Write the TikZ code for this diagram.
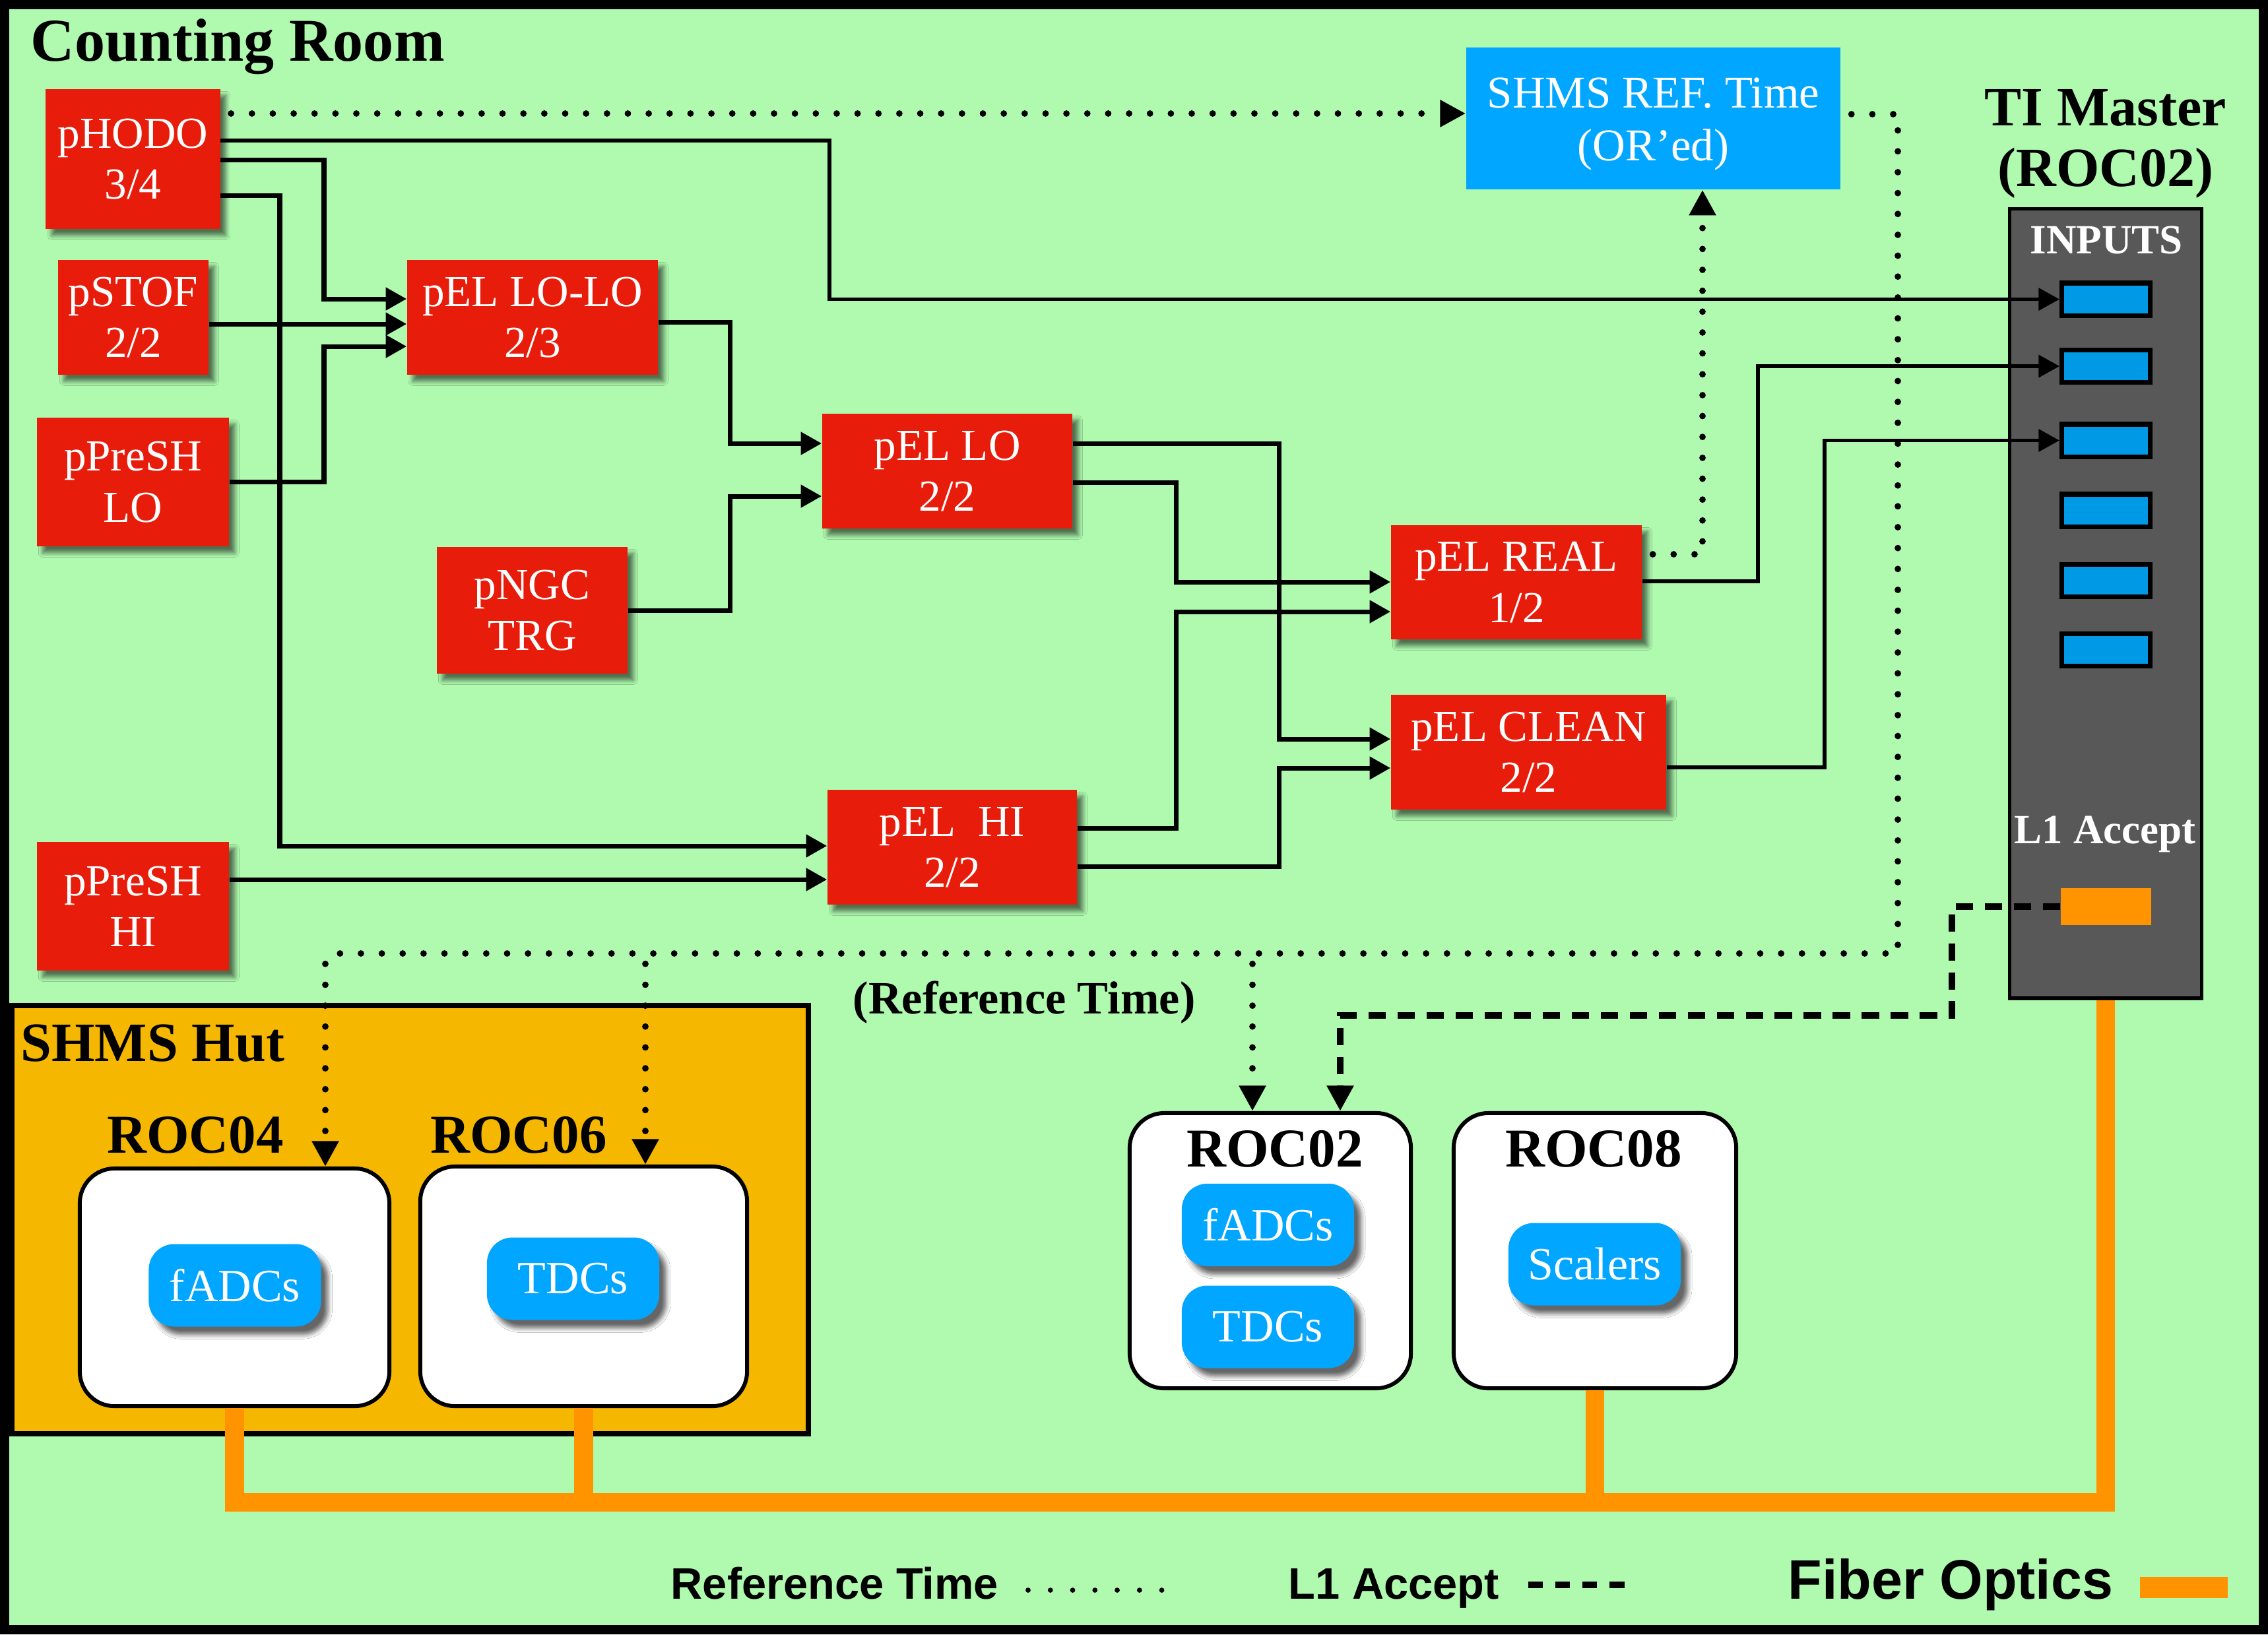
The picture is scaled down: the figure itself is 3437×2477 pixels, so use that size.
\documentclass[tikz,border=0pt]{standalone}
\usepackage{fontspec}
\setmainfont{Liberation Serif}
\newfontfamily\legendfont{Liberation Sans}
\usetikzlibrary{arrows.meta,shadows.blur}

\definecolor{bggreen}{RGB}{176,250,176}
\definecolor{trigred}{RGB}{232,28,10}
\definecolor{refblue}{RGB}{0,166,255}
\definecolor{slotblue}{RGB}{0,153,230}
\definecolor{tigray}{RGB}{88,88,88}
\definecolor{fiber}{RGB}{255,147,0}
\definecolor{hutorange}{RGB}{246,183,0}

\begin{document}
\begin{tikzpicture}[x=0.01cm,y=-0.01cm,
  trig/.style={fill=trigred, text=white, inner sep=0pt, align=center,
    font=\fontsize{19.1pt}{22pt}\selectfont,
    blur shadow={shadow xshift=2.5pt, shadow yshift=-2.8pt, shadow blur steps=6, shadow opacity=55}},
  rocbox/.style={draw=black, line width=1.7pt, fill=white, rounded corners=15pt, inner sep=0pt},
  pill/.style={fill=refblue, text=white, rounded corners=11pt, inner sep=0pt,
    minimum width=2.61cm, minimum height=1.25cm,
    font=\fontsize{19.9pt}{23pt}\selectfont,
    blur shadow={shadow xshift=3pt, shadow yshift=-3.5pt, shadow blur steps=6, shadow opacity=60}},
  slot/.style={fill=slotblue, draw=black, line width=2pt, inner sep=0pt,
    minimum width=1.34cm, minimum height=0.49cm},
  conn/.style={line width=2pt, -{Triangle[length=9pt,width=9.5pt]}},
  tiin/.style={line width=1.6pt, -{Triangle[length=9pt,width=9.5pt]}},
  refdot/.style={line width=2.8pt, dash pattern=on 0pt off 9pt, dash phase=4.5pt, line cap=round},
  bigtip/.style={-{Triangle[length=11pt,width=11pt]}},
  l1dash/.style={line width=2.8pt, dash pattern=on 7.5pt off 5pt},
  fiberline/.style={draw=fiber, line width=8pt},
  roclabel/.style={font=\fontsize{23.6pt}{27pt}\selectfont\bfseries, anchor=base, inner sep=0pt},
  tilabel/.style={font=\fontsize{17.9pt}{21pt}\selectfont\bfseries, text=white, anchor=base, inner sep=0pt},
  legend/.style={font=\legendfont\bfseries\fontsize{19pt}{22pt}\selectfont, anchor=base west, inner sep=0pt}
]
\useasboundingbox (0,0) rectangle (3437,2477);
% background and frame
\fill[bggreen] (0,0) rectangle (3437,2477);
\draw[line width=4pt] (7,7) rectangle (3430,2470);

\node[font=\fontsize{26.2pt}{30pt}\selectfont\bfseries, anchor=base west, inner sep=0pt] (countroom) at (46,92) {Counting Room};

% SHMS hut
\draw[fill=hutorange, line width=2.5pt] (18,1524) rectangle (1225,2173);
\node[font=\fontsize{23.9pt}{27pt}\selectfont\bfseries, anchor=base west, inner sep=0pt] (hutlabel) at (31,1608) {SHMS Hut};

% readout crates
\node[rocbox, minimum width=4.69cm, minimum height=3.60cm] (roc04) at (355.5,1951) {};
\node[rocbox, minimum width=4.95cm, minimum height=3.63cm] (roc06) at (884.5,1949.5) {};
\node[rocbox, minimum width=4.26cm, minimum height=4.17cm] (roc02) at (1925,1895.5) {};
\node[rocbox, minimum width=4.28cm, minimum height=4.17cm] (roc08) at (2417,1895.5) {};
\node[roclabel] (roc04lbl) at (296,1747) {ROC04};
\node[roclabel] (roc06lbl) at (786,1747) {ROC06};
\node[roclabel] (roc02lbl) at (1932,1768) {ROC02};
\node[roclabel] (roc08lbl) at (2415,1768) {ROC08};

\node[pill] (adc04) at (356,1948) {fADCs};
\node[pill] (tdc06) at (868.5,1938) {TDCs};
\node[pill] (adc02) at (1921.5,1856.5) {fADCs};
\node[pill] (tdc02) at (1921.5,2011) {TDCs};
\node[pill] (scal08) at (2416.5,1916) {Scalers};

% fiber optics
\draw[fiberline] (roc04.south) -- (roc04.south |- 0,2277) -| (3191,1515);
\draw[fiberline] (roc06.south) -- (roc06.south |- 0,2277);
\draw[fiberline] (roc08.south) -- (roc08.south |- 0,2277);

% trigger logic
\node[trig, minimum width=2.64cm, minimum height=2.12cm] (hodo) at (201.5,241) {pHODO\\3/4};
\node[trig, minimum width=2.28cm, minimum height=1.74cm] (stof) at (202,481) {pSTOF\\2/2};
\node[trig, minimum width=2.91cm, minimum height=1.95cm] (preshlo) at (201.5,730.5) {pPreSH\\LO};
\node[trig, minimum width=3.80cm, minimum height=1.74cm] (lolo) at (807,481) {pEL LO-LO\\2/3};
\node[trig, minimum width=2.89cm, minimum height=1.92cm] (ngc) at (806.5,925) {pNGC\\TRG};
\node[trig, minimum width=3.79cm, minimum height=1.74cm] (lo) at (1435.5,714) {pEL LO\\2/2};
\node[trig, minimum width=3.80cm, minimum height=1.73cm] (real) at (2298,882.5) {pEL REAL\\1/2};
\node[trig, minimum width=4.17cm, minimum height=1.74cm] (clean) at (2316.5,1140) {pEL CLEAN\\2/2};
\node[trig, minimum width=3.78cm, minimum height=1.74cm] (hi) at (1443,1284) {pEL\ \ HI\\2/2};
\node[trig, minimum width=2.91cm, minimum height=1.95cm] (preshhi) at (201.5,1373.5) {pPreSH\\HI};

\node[fill=refblue, inner sep=0pt, minimum width=5.67cm, minimum height=2.15cm] (shmsref) at (2505.5,179.5) {};
\node[text=white, inner sep=0pt, align=center, font=\fontsize{19.6pt}{23pt}\selectfont] (shmsreftxt) at (2505.5,188) {SHMS REF. Time\\(OR’ed)};

% trigger interface
\node[font=\fontsize{23.9pt}{27pt}\selectfont\bfseries, anchor=base, inner sep=0pt] (timaster) at (3191,190) {TI Master};
\node[font=\fontsize{23.9pt}{27pt}\selectfont\bfseries, anchor=base, inner sep=0pt] (tiroc) at (3191,282) {(ROC02)};
\node[draw=black, line width=1.5pt, fill=tigray, minimum width=2.91cm, minimum height=11.96cm, inner sep=0pt] (ti) at (3191,914.5) {};
\node[tilabel] (inputs) at (3192,384) {INPUTS};
\node[slot] (slot1) at (3191.5,453.5) {};
\node[slot] (slot2) at (3191.5,555) {};
\node[slot] (slot3) at (3191.5,667.5) {};
\node[slot] (slot4) at (3191.5,773.5) {};
\node[slot] (slot5) at (3191.5,879.5) {};
\node[slot] (slot6) at (3191.5,985) {};
\node[tilabel] (l1lbl) at (3190,1278) {L1 Accept};
\node[fill=fiber, minimum width=1.37cm, minimum height=0.56cm, inner sep=0pt] (l1slot) at (3191.5,1374) {};

% trigger connections
\draw[conn] (hodo.east |- 0,242) -| (491,453) -- (lolo.west |- 0,453);
\draw[conn] (stof.east |- 0,491) -- (lolo.west |- 0,491);
\draw[conn] (preshlo.east |- 0,730) -| (491,525) -- (lolo.west |- 0,525);
\draw[conn] (hodo.east |- 0,296) -| (424,1282) -- (hi.west |- 0,1282);
\draw[conn] (preshhi.east |- 0,1333) -- (hi.west |- 0,1333);
\draw[conn] (lolo.east |- 0,488) -| (1106,672) -- (lo.west |- 0,672);
\draw[conn] (ngc.east |- 0,925) -| (1106,752) -- (lo.west |- 0,752);
\draw[conn] (lo.east |- 0,672) -| (1938,1120) -- (clean.west |- 0,1120);
\draw[conn] (lo.east |- 0,731) -| (1782,882) -- (real.west |- 0,882);
\draw[conn] (hi.east |- 0,1255) -| (1782,927) -- (real.west |- 0,927);
\draw[conn] (hi.east |- 0,1313) -| (1938,1164) -- (clean.west |- 0,1164);
\draw[tiin] (hodo.east |- 0,213) -| (1257,0 |- slot1.west) -- (slot1.west);
\draw[tiin] (real.east |- 0,881) -| (2664,0 |- slot2.west) -- (slot2.west);
\draw[tiin] (clean.east |- 0,1163) -| (2765,0 |- slot3.west) -- (slot3.west);

% reference time distribution
\draw[refdot, bigtip] (hodo.east |- 0,172) -- (shmsref.west |- 0,172);
\draw[refdot, bigtip] (real.east |- 0,840) -| (2580,0 |- shmsref.south);
\draw[refdot] (shmsref.east |- 0,173) -| (2876,1445) -- (493,1445);
\draw[refdot, bigtip] (493,1445) -- (493,0 |- roc04.north);
\draw[refdot, bigtip] (978,1445) -- (978,0 |- roc06.north);
\draw[refdot, bigtip] (1898,1445) -- (1898,0 |- roc02.north);
\node[font=\fontsize{20pt}{23pt}\selectfont\bfseries, anchor=base, inner sep=0pt] (reftime) at (1552,1536) {(Reference Time)};

% L1 accept
\draw[l1dash, bigtip] (l1slot.west) -| (2958,1539) -| (2031,0 |- roc02.north);

% legend
\node[legend] (legref) at (1016,2423) {Reference Time};
\draw[line width=2.2pt, dash pattern=on 0pt off 9.6pt, line cap=round] (1558,2410) -- (1762,2410);
\node[legend] (legl1) at (1952,2423) {L1 Accept};
\draw[line width=2.8pt, dash pattern=on 6.3pt off 5.4pt] (2316,2402) -- (2462,2402);
\node[legend, font=\legendfont\bfseries\fontsize{24pt}{28pt}\selectfont] (legfiber) at (2709,2423) {Fiber Optics};
\fill[fiber] (3243,2390) rectangle (3376,2422);
\end{tikzpicture}
\end{document}
